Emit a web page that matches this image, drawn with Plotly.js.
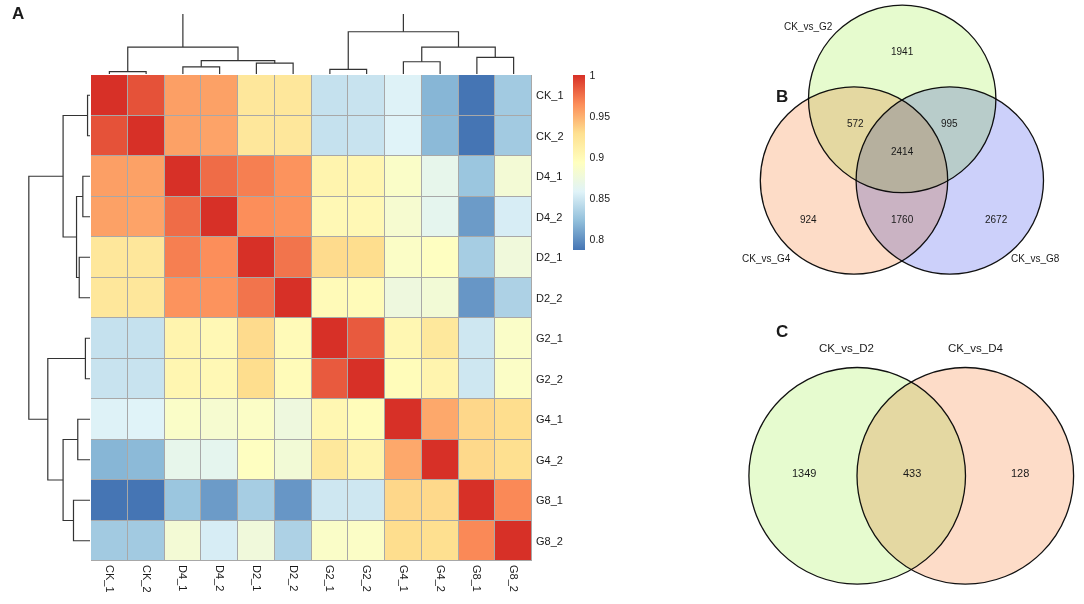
<!DOCTYPE html>
<html><head><meta charset="utf-8">
<script src="https://cdn.plot.ly/plotly-3.0.1.min.js"></script>
<style>
html,body{margin:0;padding:0;background:#fff;}
#chart{width:1084px;height:604px;}
#chart .layer-above .shapelayer path{mix-blend-mode:multiply;}
</style></head><body><div id="chart"></div>
<script>
// ---------- DATA ----------
const samples = ["CK_1","CK_2","D4_1","D4_2","D2_1","D2_2","G2_1","G2_2","G4_1","G4_2","G8_1","G8_2"];
const corrValues = [
  [1.000,0.987,0.957,0.956,0.921,0.921,0.846,0.847,0.857,0.818,0.787,0.830],
  [0.987,1.000,0.956,0.955,0.921,0.921,0.846,0.847,0.858,0.820,0.787,0.830],
  [0.957,0.956,1.000,0.977,0.970,0.962,0.906,0.904,0.888,0.866,0.827,0.880],
  [0.956,0.955,0.977,1.000,0.964,0.962,0.901,0.901,0.883,0.864,0.805,0.854],
  [0.921,0.921,0.970,0.964,1.000,0.974,0.931,0.930,0.889,0.892,0.832,0.876],
  [0.921,0.921,0.962,0.962,0.974,1.000,0.899,0.898,0.874,0.879,0.803,0.835],
  [0.846,0.846,0.906,0.901,0.931,0.899,1.000,0.984,0.903,0.920,0.850,0.888],
  [0.847,0.847,0.904,0.901,0.930,0.898,0.984,1.000,0.897,0.906,0.850,0.889],
  [0.857,0.858,0.888,0.883,0.889,0.874,0.903,0.897,1.000,0.953,0.933,0.930],
  [0.818,0.820,0.866,0.864,0.892,0.879,0.920,0.906,0.953,1.000,0.932,0.929],
  [0.787,0.787,0.827,0.805,0.832,0.803,0.850,0.850,0.933,0.932,1.000,0.966],
  [0.830,0.830,0.880,0.854,0.876,0.835,0.888,0.889,0.930,0.929,0.966,1.000]
];
// hierarchical clustering merges: [childA, childB, height]; "mK" = K-th merge
const treeMerges = [
  ["CK_1","CK_2",0.040],
  ["D4_1","D4_2",0.117],
  ["D2_1","D2_2",0.176],
  ["m1","m2",0.220],
  ["m0","m3",0.440],
  ["G2_1","G2_2",0.075],
  ["G4_1","G4_2",0.200],
  ["G8_1","G8_2",0.270],
  ["m6","m7",0.440],
  ["m5","m8",0.690],
  ["m4","m9",1.000]
];
const colorbarTicks = [0.8,0.85,0.9,0.95,1];
const colorbarTickText = ["0.8","0.85","0.9","0.95","1"];

const vennBSets = ["CK_vs_G2","CK_vs_G4","CK_vs_G8"];
const vennBRegions = ["G2","G4","G8","G2&G4","G2&G8","G4&G8","G2&G4&G8"];
const vennBCounts = [1941,924,2672,572,995,1760,2414];
const vennCSets = ["CK_vs_D2","CK_vs_D4"];
const vennCRegions = ["D2","D4","D2&D4"];
const vennCCounts = [1349,128,433];

// ---------- LAYOUT CONSTANTS (pixels) ----------
const W = 1084, H = 604;
const px = v => v / W, py = v => 1 - v / H;
const FONT = "Liberation Sans, Arial, Helvetica, sans-serif";
const colorscale = [[0,"#4575B4"],[1/6,"#91BFDB"],[2/6,"#E0F3F8"],[3/6,"#FFFFBF"],[4/6,"#FEE090"],[5/6,"#FC8D59"],[1,"#D73027"]];

const vennBCircles = [ // CK_vs_G2, CK_vs_G4, CK_vs_G8
  {cx:902.2, cy:98.9, r:93.7, fill:"#E6FBCE"},
  {cx:854.0, cy:180.5, r:93.7, fill:"#FDDCC7"},
  {cx:949.8, cy:180.5, r:93.7, fill:"#CCD0FA"}
];
const vennBSetPos = [[808.5,26],[766,258.5],[1035,258.5]];
const vennBRegionPos = [[902,51],[808,219],[996,219],[855,124],[949.5,124],[902.5,219],[902.5,151]];
const vennCCircles = [
  {cx:857.2, cy:475.8, r:108.3, fill:"#E6FBCF"},
  {cx:965.3, cy:475.8, r:108.3, fill:"#FDDCC8"}
];
const vennCSetPos = [[846.7,348],[976,348]];
const vennCRegionPos = [[803.5,472.5],[1020,472.5],[911.5,472.5]];

// ---------- DENDROGRAM GEOMETRY (from merges) ----------
const pos = {}, ht = {};
samples.forEach((s,i)=>{pos[s]=i; ht[s]=0;});
const segs = [];
treeMerges.forEach((m,k)=>{
  const [a,b,h] = m, id = "m"+k;
  segs.push([[pos[a],ht[a]],[pos[a],h],[pos[b],h],[pos[b],ht[b]]]);
  pos[id] = (pos[a]+pos[b])/2; ht[id] = h;
});
const dP = [], dH = [];
segs.forEach(s=>{ s.forEach(p=>{dP.push(p[0]); dH.push(p[1]);}); dP.push(null); dH.push(null); });

const idx = samples.map((s,i)=>i);
const traces = [
  {
    type:"heatmap", z:corrValues, x:idx, y:idx, xaxis:"x", yaxis:"y",
    colorscale:colorscale, zmin:0.787, zmax:1, xgap:1, ygap:1, hoverinfo:"skip",
    colorbar:{
      x:px(573), xanchor:"left", xpad:0, y:py(75), yanchor:"top", ypad:0,
      len:175/H, lenmode:"fraction", thickness:12, thicknessmode:"pixels",
      outlinewidth:0, tickvals:colorbarTicks, ticktext:colorbarTickText,
      ticks:"outside", ticklen:3, tickcolor:"rgba(0,0,0,0)",
      tickfont:{family:FONT, size:10.5, color:"#1a1a1a"}
    }
  },
  { type:"scatter", mode:"lines", x:dP, y:dH, xaxis:"x", yaxis:"y2",
    line:{color:"#333", width:1.2}, hoverinfo:"skip", connectgaps:false },
  { type:"scatter", mode:"lines", x:dH, y:dP, xaxis:"x2", yaxis:"y",
    line:{color:"#333", width:1.2}, hoverinfo:"skip", connectgaps:false }
];

const shapes = [
  {type:"rect", xref:"x", yref:"y", x0:-0.52, x1:11.52, y0:-0.52, y1:11.52,
   fillcolor:"#A8A8A8", line:{width:0}, layer:"below"}
];
vennBCircles.concat(vennCCircles).forEach(c=>{
  shapes.push({type:"circle", xref:"paper", yref:"paper", layer:"above",
    x0:px(c.cx-c.r), x1:px(c.cx+c.r), y0:py(c.cy+c.r), y1:py(c.cy-c.r),
    fillcolor:c.fill, line:{color:"#111", width:1.3}});
});

const annotations = [];
function addText(t, p, size, bold){
  annotations.push({text: bold ? "<b>"+t+"</b>" : t, x:px(p[0]), y:py(p[1]), xref:"paper", yref:"paper",
    xanchor:"center", yanchor:"middle", showarrow:false, borderpad:0,
    font:{family:FONT, size:size, color:"#1a1a1a"}});
}
addText("A",[17.5,13],17,true);
addText("B",[782,97],17,true);
addText("C",[782,331],17,true);
vennBSets.forEach((t,i)=>addText(t,vennBSetPos[i],10));
vennBCounts.forEach((c,i)=>addText(String(c),vennBRegionPos[i],10));
vennCSets.forEach((t,i)=>addText(t,vennCSetPos[i],11.5));
vennCCounts.forEach((c,i)=>addText(String(c),vennCRegionPos[i],11));

const layout = {
  width:W, height:H, margin:{l:0,r:0,t:0,b:0}, paper_bgcolor:"#fff", plot_bgcolor:"rgba(0,0,0,0)",
  showlegend:false, font:{family:FONT, color:"#1a1a1a"},
  xaxis:{domain:[px(91),px(532)], range:[-0.5,11.5], anchor:"y", tickvals:idx, ticktext:samples,
    tickangle:90, ticks:"", showgrid:false, zeroline:false, showline:false, ticklabelstandoff:3,
    tickfont:{family:FONT, size:11, color:"#1a1a1a"}},
  yaxis:{domain:[py(561),py(75)], range:[11.5,-0.5], anchor:"x", side:"right", tickvals:idx, ticktext:samples,
    ticks:"", showgrid:false, zeroline:false, showline:false, ticklabelstandoff:3,
    tickfont:{family:FONT, size:11, color:"#1a1a1a"}},
  yaxis2:{domain:[py(74),py(14)], range:[0,0.98], anchor:"x", visible:false, fixedrange:true},
  xaxis2:{domain:[px(27),px(90)], range:[1.03,0], anchor:"y", visible:false, fixedrange:true},
  shapes:shapes, annotations:annotations
};
Plotly.newPlot("chart", traces, layout, {displayModeBar:false, staticPlot:true});
</script></body></html>
